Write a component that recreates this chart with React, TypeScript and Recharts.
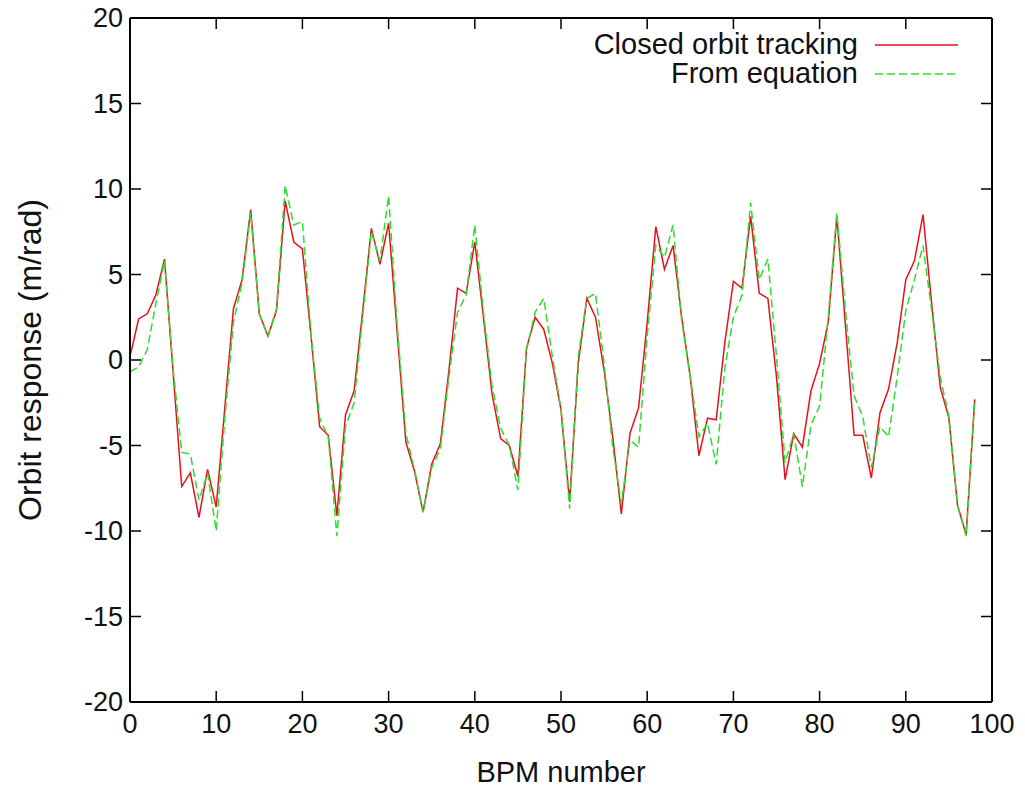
import {
  LineChart,
  Line,
  XAxis,
  YAxis,
  Legend,
  ReferenceLine,
  Label,
} from 'recharts';

// orbit response at each BPM
const tracking = [
  0.2, 2.4, 2.7, 3.8, 5.9, -0.7, -7.4, -6.6, -9.2, -6.4,
  -8.6, -2.8, 3.0, 4.7, 8.8, 2.7, 1.4, 2.9, 9.3, 6.9,
  6.5, 1.4, -3.9, -4.4, -9.1, -3.2, -1.8, 2.9, 7.7, 5.6,
  8.0, 1.6, -4.8, -6.5, -8.9, -6.1, -4.9, -0.6, 4.2, 3.9,
  6.9, 2.5, -2.0, -4.6, -5.0, -6.8, 0.7, 2.5, 1.8, -0.2,
  -2.9, -8.3, -0.2, 3.6, 2.5, -0.6, -4.5, -9.0, -4.3, -2.8,
  2.2, 7.8, 5.3, 6.7, 2.5, -1.0, -5.6, -3.4, -3.5, 1.0,
  4.6, 4.2, 8.4, 3.9, 3.6, -1.0, -7.0, -4.3, -5.1, -1.8,
  -0.2, 2.2, 8.4, 2.0, -4.4, -4.4, -6.9, -3.1, -1.7, 1.0,
  4.7, 5.8, 8.5, 3.3, -1.6, -3.4, -8.5, -10.2, -2.3,
];

const equation = [
  -0.7, -0.4, 0.6, 3.3, 5.8, -0.5, -5.4, -5.5, -8.2, -6.6,
  -10.0, -3.4, 2.2, 4.5, 8.6, 2.7, 1.4, 3.0, 10.2, 7.9,
  8.1, 1.5, -3.4, -4.5, -10.3, -3.9, -2.5, 2.6, 7.5, 5.8,
  9.6, 2.0, -4.3, -6.4, -8.9, -6.3, -5.2, -1.0, 2.8, 3.8,
  7.9, 2.8, -1.5, -4.0, -5.0, -7.6, 0.6, 2.8, 3.6, 0.2,
  -2.9, -8.7, 0.2, 3.6, 3.9, -0.2, -5.1, -8.4, -4.7, -5.1,
  1.4, 6.7, 6.0, 7.9, 2.3, -1.0, -4.5, -3.7, -6.1, -0.5,
  2.5, 3.8, 9.2, 4.7, 5.9, 0.2, -6.0, -4.3, -7.4, -3.8,
  -2.7, 2.5, 8.6, 2.9, -2.1, -3.3, -6.3, -3.9, -4.5, -1.0,
  2.9, 4.7, 6.7, 2.9, -1.0, -3.3, -8.5, -10.3, -2.3,
];

const xTicks = [0, 10, 20, 30, 40, 50, 60, 70, 80, 90, 100];
const yTicks = [-20, -15, -10, -5, 0, 5, 10, 15, 20];

const series = [
  { key: 'tracking', name: 'Closed orbit tracking', color: '#e8101e', dash: undefined },
  { key: 'equation', name: 'From equation', color: '#2ede2e', dash: '8 4' },
];

const data = tracking.map((v, i) => ({ bpm: i, tracking: v, equation: equation[i] }));

const FONT = '"Liberation Sans", Arial, Helvetica, sans-serif';
const CHART_W = 1017;
const CHART_H = 789;
const PLOT_W = 862;
const PLOT_H = 684;
const TICK_LEN = 11;
const Y_MARGIN = 7;
const X_MARGIN = 8;

const YTick = ({ x, y, payload }: any) => {
  const ax = x + Y_MARGIN;
  return (
    <g>
      <text x={x} y={y} textAnchor="end" dominantBaseline="central" fontSize={27} fill="#111" fontFamily={FONT}>
        {payload.value}
      </text>
      <line x1={ax} x2={ax + TICK_LEN} y1={y} y2={y} stroke="#000" strokeWidth={1.5} />
      <line x1={ax + PLOT_W} x2={ax + PLOT_W - TICK_LEN} y1={y} y2={y} stroke="#000" strokeWidth={1.5} />
    </g>
  );
};

const XTick = ({ x, y, payload }: any) => {
  const ay = y - X_MARGIN;
  return (
    <g>
      <text x={x} y={y} dy={23} textAnchor="middle" fontSize={27} fill="#111" fontFamily={FONT}>
        {payload.value}
      </text>
      <line x1={x} x2={x} y1={ay} y2={ay - TICK_LEN} stroke="#000" strokeWidth={1.5} />
      <line x1={x} x2={x} y1={ay - PLOT_H} y2={ay - PLOT_H + TICK_LEN} stroke="#000" strokeWidth={1.5} />
    </g>
  );
};

const renderLegend = () => (
  <div style={{ fontFamily: FONT, fontSize: 29, color: '#111' }}>
    {series.map((s) => (
      <div key={s.key} style={{ display: 'flex', alignItems: 'center', height: 29 }}>
        <span style={{ width: 290, textAlign: 'right', whiteSpace: 'nowrap' }}>{s.name}</span>
        <svg width={83} height={10} style={{ marginLeft: 17 }}>
          <line x1={0} x2={83} y1={5} y2={5} stroke={s.color} strokeWidth={1.5} strokeDasharray={s.dash} />
        </svg>
      </div>
    ))}
  </div>
);

export default function App() {
  return (
    <div style={{ width: CHART_W, height: CHART_H, marginTop: -8, background: '#fff' }}>
      <LineChart
        width={CHART_W}
        height={CHART_H}
        data={data}
        margin={{ top: 18, right: 33, left: 0, bottom: 7 }}
      >
        <XAxis
          dataKey="bpm"
          type="number"
          domain={[0, 100]}
          ticks={xTicks}
          height={80}
          tickSize={0}
          tickMargin={X_MARGIN}
          tickLine={false}
          axisLine={{ stroke: '#000', strokeWidth: 2 }}
          tick={<XTick />}
          interval={0}
        >
          <Label value="BPM number" position="insideBottom" offset={0} fontSize={29} fill="#111" fontFamily={FONT} />
        </XAxis>
        <YAxis
          type="number"
          domain={[-20, 20]}
          ticks={yTicks}
          width={122}
          tickSize={0}
          tickMargin={Y_MARGIN}
          tickLine={false}
          axisLine={{ stroke: '#000', strokeWidth: 2 }}
          tick={<YTick />}
          interval={0}
        >
          <Label
            value="Orbit response (m/rad)"
            angle={-90}
            position="insideLeft"
            offset={22}
            fontSize={32}
            fill="#111"
            fontFamily={FONT}
            style={{ textAnchor: 'middle' }}
          />
        </YAxis>
        <ReferenceLine y={20} stroke="#000" strokeWidth={2} />
        <ReferenceLine x={100} stroke="#000" strokeWidth={2} />
        <Legend
          layout="vertical"
          align="center"
          verticalAlign="middle"
          content={renderLegend}
          wrapperStyle={{ left: 560, top: 30, width: 400, height: 'auto' }}
        />
        {series.map((s) => (
          <Line
            key={s.key}
            type="linear"
            dataKey={s.key}
            name={s.name}
            stroke={s.color}
            strokeWidth={1.5}
            strokeDasharray={s.dash}
            dot={false}
            activeDot={false}
            isAnimationActive={false}
          />
        ))}
      </LineChart>
    </div>
  );
}
